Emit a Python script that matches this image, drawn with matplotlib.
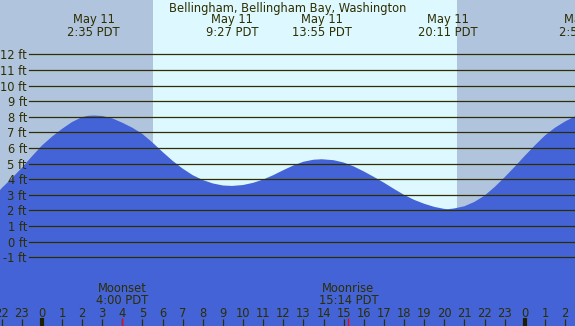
import matplotlib
matplotlib.use("Agg")
import matplotlib.pyplot as plt
from matplotlib.transforms import blended_transform_factory

# ---------------- data ----------------
title = "Bellingham, Bellingham Bay, Washington"

# tide height (ft), hours relative to May 11 00:00 PDT
tide_hours = [-2.08, -2, -1.5, -1, -0.5, 0, 0.5, 1, 1.5, 2, 2.3, 2.583, 3, 3.5,
              4, 4.5, 5, 5.5, 6, 6.5, 7, 7.5, 8, 8.5, 9, 9.45, 10, 10.5, 11,
              11.5, 12, 12.5, 13, 13.5, 13.917, 14.5, 15, 15.5, 16, 16.5, 17,
              17.5, 18, 18.5, 19, 19.5, 20, 20.183, 20.5, 21, 21.5, 22, 22.5,
              23, 23.5, 24, 24.5, 25, 25.5, 26, 26.5]
tide_ft = [3.3, 3.42, 4.05, 4.72, 5.45, 6.15, 6.72, 7.22, 7.66, 7.98, 8.06,
           8.08, 8.05, 7.9, 7.62, 7.3, 6.9, 6.35, 5.75, 5.18, 4.68, 4.26, 3.95,
           3.73, 3.6, 3.57, 3.63, 3.77, 3.98, 4.26, 4.58, 4.88, 5.12, 5.25,
           5.28, 5.22, 5.07, 4.82, 4.5, 4.15, 3.78, 3.38, 3.0, 2.68, 2.43,
           2.23, 2.1, 2.08, 2.13, 2.27, 2.55, 2.95, 3.5, 4.13, 4.8, 5.5, 6.17,
           6.8, 7.3, 7.7, 8.03]

event_hours = [2.583, 9.45, 13.917, 20.183, 26.98]
event_dates = ["May 11", "May 11", "May 11", "May 11", "May 12"]
event_times = ["2:35 PDT", "9:27 PDT", "13:55 PDT", "20:11 PDT", "2:59 PDT"]

sunrise_hour = 5.52
sunset_hour = 20.65

moon_hours = [4.0, 15.233]
moon_names = ["Moonset", "Moonrise"]
moon_times = ["4:00 PDT", "15:14 PDT"]

ft_levels = list(range(-1, 13))
tick_hours = list(range(-2, 27))
tick_labels = [str(h % 24) for h in tick_hours]

# ---------------- style ----------------
W, H = 575, 326
NIGHT = "#b0c4de"
DAY = "#ddf8ff"
WATER = "#4363d7"
INK = "#2e2e00"
FS = 8.3

fig = plt.figure(figsize=(W / 100, H / 100), dpi=100)
ax = fig.add_axes([0, 0, 1, 1])
x0, x1 = -2.077, 26.494
y0, y1 = -5.40, 15.48
ax.set_xlim(x0, x1)
ax.set_ylim(y0, y1)
ax.axis("off")

ax.axvspan(x0, sunrise_hour, color=NIGHT, lw=0, zorder=0)
ax.axvspan(sunrise_hour, sunset_hour, color=DAY, lw=0, zorder=0)
ax.axvspan(sunset_hour, x1, color=NIGHT, lw=0, zorder=0)

ax.fill_between(tide_hours, tide_ft, y0 - 1, color=WATER, lw=0, zorder=2)

ylab_tr = blended_transform_factory(ax.transAxes, ax.transData)
for v in ft_levels:
    ax.axhline(v, xmin=29 / W, xmax=1, color=INK, lw=0.9, zorder=3)
    ax.text(27 / W, v - 0.32, f"{v} ft", transform=ylab_tr, ha="right",
            va="baseline", fontsize=FS, color=INK, zorder=4)

top_tr = blended_transform_factory(ax.transData, ax.transAxes)
ax.text(0.5, 1 - 12 / H, title, transform=ax.transAxes, ha="center",
        va="baseline", fontsize=FS, color=INK, zorder=4)
for h, d, t in zip(event_hours, event_dates, event_times):
    ax.text(h, 1 - 36 / H, f"{d}\n{t}", transform=top_tr, ha="center",
            va="baseline", ma="center", linespacing=0.95, fontsize=FS,
            color=INK, zorder=4)

for h, n, t in zip(moon_hours, moon_names, moon_times):
    ax.text(h, 1 - 304 / H, f"{n}\n{t}", transform=top_tr, ha="center",
            va="baseline", ma="center", linespacing=0.95, fontsize=FS,
            color=INK, zorder=4)
    ax.vlines(h, 0, 8 / H, transform=top_tr, color="red", lw=0.9, zorder=5)

for h, lab in zip(tick_hours, tick_labels):
    ax.text(h, 1 - 317 / H, lab, transform=top_tr, ha="center", va="baseline",
            fontsize=FS, color=INK, zorder=4)
    if h % 24 == 0:
        ax.vlines(h, 0, 8 / H, transform=top_tr, color="#1e1e00", lw=3.0, zorder=4)
    else:
        ax.vlines(h, 0, 7 / H, transform=top_tr, color=INK, lw=0.9, zorder=4)

fig.savefig("out.png", dpi=100)
